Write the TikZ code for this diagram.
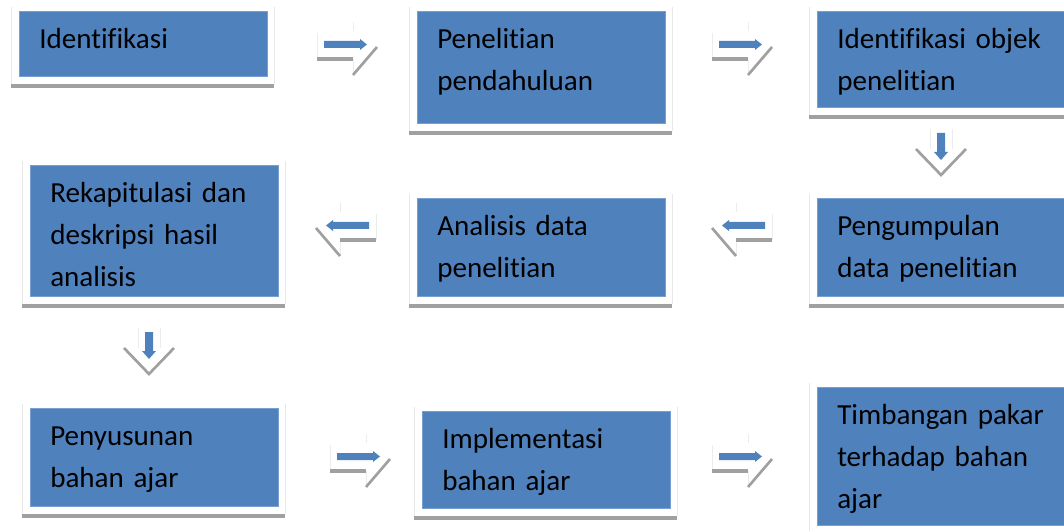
\documentclass[tikz,border=0pt]{standalone}
\usepackage{fontspec}
\setmainfont{Carlito}[Ligatures=NoCommon, WordSpace=0.85]
\definecolor{boxblue}{RGB}{79,129,189}
\definecolor{boxedge}{RGB}{120,158,210}
\definecolor{shadowgrey}{RGB}{160,160,160}
\definecolor{framec}{RGB}{232,232,232}
\definecolor{arrowline}{RGB}{236,236,236}
\tikzset{
  bluebox/.style={rectangle, fill=boxblue, draw=boxedge, line width=0.6pt, minimum width=186pt, inner sep=0pt},
  boxtext/.style={inner sep=0pt, text width=180pt, align=left, font=\fontsize{21.8}{31.5}\selectfont},
  frameside/.style={draw=framec, line width=0.6pt},
  shadowbar/.style={fill=shadowgrey},
  arrowoutline/.style={draw=arrowline, line width=0.6pt},
  arrowshadow/.style={draw=shadowgrey, line width=2pt},
  arrowbar/.style={draw=shadowgrey, line width=3pt},
  bluearrow/.style={fill=boxblue, draw=none},
}
% #1 name, #2 left, #3 top, #4 height (px), #5 text
\newcommand{\stepbox}[5]{%
  \fill[shadowbar] (#2-8,#3+#4+8) rectangle (#2+255,#3+#4+12);
  \draw[frameside] (#2-8,#3-4) -- (#2-8,#3+#4+8) (#2+255,#3-4) -- (#2+255,#3+#4+8);
  \node[bluebox, minimum height=#4*0.75pt, anchor=north west] (#1) at (#2,#3) {};
  \node[boxtext, anchor=base west] (#1t) at (#2+20,#3+37.5) {#5};
}
\newcommand{\rightshape}{%
  \draw[arrowoutline] (317,33) -- (317,59) (353,22) -- (353,31) (353,59) -- (353,75);
  \draw[arrowbar] (317,59) -- (353,59);
  \draw[arrowshadow] (353,75) -- (377,47);
  \fill[bluearrow] (324,41) -- (360,41) -- (360,39) -- (367,44.5) -- (360,50) -- (360,48) -- (324,48) -- cycle;
}
\newcommand{\downshape}{%
  \draw[arrowoutline] (930,129) -- (930,149) (952,129) -- (952,149);
  \draw[arrowshadow] (916,149) -- (941,175) -- (966,149);
  \fill[bluearrow] (937,133) -- (945,133) -- (945,152) -- (948,152) -- (941,160) -- (934,152) -- (937,152) -- cycle;
}
\begin{document}
\begin{tikzpicture}[x=0.75pt, y=-0.75pt]
\clip (0,0) rectangle (1064,531);
\fill[white] (0,0) rectangle (1064,531);

% row 1
\stepbox{b1}{19}{11}{65}{Identifikasi}
\stepbox{b2}{417}{11}{112}{Penelitian\\pendahuluan}
\stepbox{b3}{817}{11}{96}{Identifikasi objek\\penelitian}
% row 2
\stepbox{b4}{30}{165}{131}{Rekapitulasi dan\\deskripsi hasil\\analisis}
\stepbox{b5}{417}{198}{98}{Analisis data\\penelitian}
\stepbox{b6}{817}{198}{98}{Pengumpulan\\data penelitian}
% row 3
\stepbox{b7}{30}{408}{98}{Penyusunan\\bahan ajar}
\stepbox{b8}{422}{411}{97}{Implementasi\\bahan ajar}
\stepbox{b9}{817}{387}{138}{Timbangan pakar\\terhadap bahan\\ajar}

% right arrows
\begin{scope}\rightshape\end{scope}
\begin{scope}[shift={(395,0)}]\rightshape\end{scope}
\begin{scope}[shift={(13,412)}]\rightshape\end{scope}
\begin{scope}[shift={(395,412)}]\rightshape\end{scope}
% left arrows
\begin{scope}[shift={(693,181)}, xscale=-1]\rightshape\end{scope}
\begin{scope}[shift={(1089,181)}, xscale=-1]\rightshape\end{scope}
% down arrows
\begin{scope}\downshape\end{scope}
\begin{scope}[shift={(-792,199)}]\downshape\end{scope}
\end{tikzpicture}
\end{document}
